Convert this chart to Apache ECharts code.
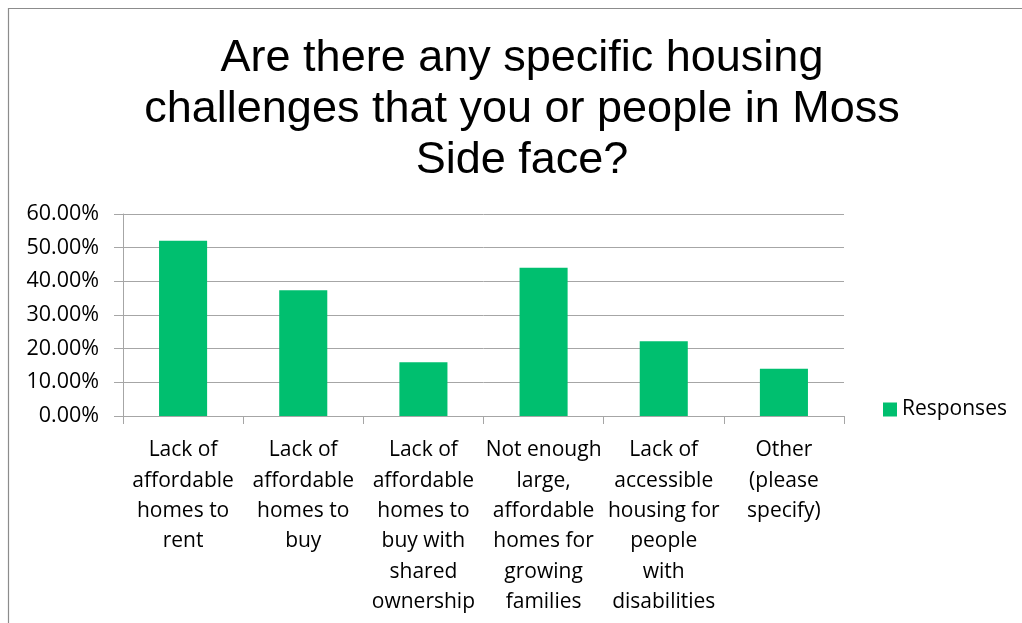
<!DOCTYPE html>
<html>
<head>
<meta charset="utf-8">
<script src="https://cdn.jsdelivr.net/npm/echarts@6/dist/echarts.min.js"></script>
<style>
html,body{margin:0;padding:0;background:#fff;}
#c{width:1022px;height:623px;}
</style>
</head>
<body>
<div id="c"></div>
<script>
var titleText = 'Are there any specific housing\nchallenges that you or people in Moss\nSide face?';
var categories = [
  'Lack of\naffordable\nhomes to\nrent',
  'Lack of\naffordable\nhomes to\nbuy',
  'Lack of\naffordable\nhomes to\nbuy with\nshared\nownership',
  'Not enough\nlarge,\naffordable\nhomes for\ngrowing\nfamilies',
  'Lack of\naccessible\nhousing for\npeople\nwith\ndisabilities',
  'Other\n(please\nspecify)'
];
var seriesName = 'Responses';
var responses = [52.07, 37.33, 15.94, 44.05, 22.17, 14.06];
var yMin = 0, yMax = 60, yStep = 10;

var chart = echarts.init(document.getElementById('c'), null, {renderer: 'canvas'});
var gray = '#a6a6a6';
var font = 'Open Sans';
chart.setOption({
  backgroundColor: '#fff',
  animation: false,
  graphic: [{
    type: 'rect',
    shape: {x: 8.5, y: 8.5, width: 1100, height: 700},
    style: {fill: 'none', stroke: '#8c8c8c', lineWidth: 1.2},
    silent: true
  }],
  title: {
    text: titleText,
    left: 517,
    top: 28,
    textAlign: 'center',
    textStyle: {
      fontFamily: 'Liberation Sans',
      fontSize: 45,
      fontWeight: 'normal',
      lineHeight: 51,
      color: '#000'
    }
  },
  legend: {
    data: [seriesName],
    left: 878,
    top: 394,
    icon: 'rect',
    itemWidth: 14,
    itemHeight: 14,
    textStyle: {fontFamily: font, fontSize: 21, color: '#000'}
  },
  grid: {left: 123, top: 214, width: 721, height: 202, containLabel: false},
  xAxis: {
    type: 'category',
    data: categories,
    axisLine: {show: true, lineStyle: {color: gray, width: 1}},
    axisTick: {show: true, alignWithLabel: false, length: 8, lineStyle: {color: gray}},
    axisLabel: {
      interval: 0,
      margin: 19,
      fontFamily: font,
      fontSize: 21,
      lineHeight: 30.4,
      color: '#000',
      align: 'center'
    }
  },
  yAxis: {
    type: 'value',
    min: yMin,
    max: yMax,
    interval: yStep,
    axisLine: {show: true, lineStyle: {color: gray, width: 1}},
    axisTick: {show: true, length: 9, lineStyle: {color: gray}},
    splitLine: {show: true, lineStyle: {color: gray, width: 1}},
    axisLabel: {
      margin: 24,
      fontFamily: font,
      fontSize: 21.5,
      color: '#000',
      formatter: function (v) { return v.toFixed(2) + '%'; }
    }
  },
  series: [{
    name: seriesName,
    type: 'bar',
    data: responses,
    barWidth: '40%',
    itemStyle: {color: '#00BF6F'}
  }]
});
</script>
</body>
</html>
